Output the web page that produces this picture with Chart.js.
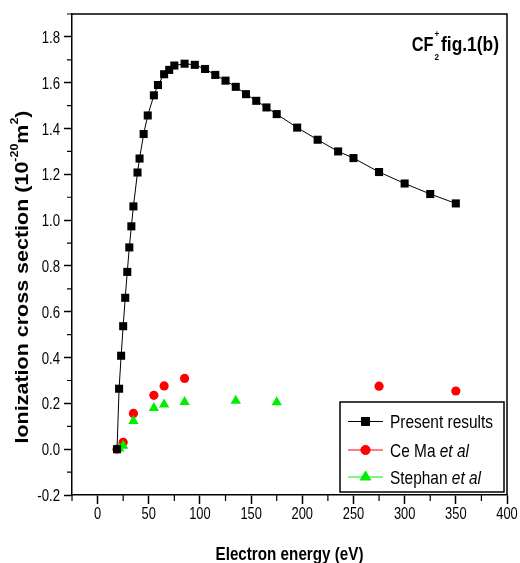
<!DOCTYPE html>
<html>
<head>
<meta charset="utf-8">
<script src="https://cdn.jsdelivr.net/npm/chart.js@4.4.0/dist/chart.umd.min.js"></script>
<style>
  html, body { margin: 0; padding: 0; background: #fff; }
</style>
</head>
<body>
<canvas id="crossSectionChart" width="520" height="563"></canvas>
<script>
// data
const presentEnergy = [19, 21, 23, 25, 27, 29, 31, 33, 35, 39, 41, 45, 49, 55, 59, 65, 70, 75, 85, 95,
    105, 115, 125, 135, 145, 155, 165, 175, 195, 215, 235, 250, 275, 300, 325, 350];
const presentCross = [0.0, 0.264, 0.408, 0.537, 0.661, 0.774, 0.881, 0.973, 1.06, 1.208, 1.269, 1.376, 1.457, 1.545, 1.59, 1.637, 1.656, 1.675, 1.683, 1.678,
    1.66, 1.634, 1.609, 1.582, 1.55, 1.521, 1.492, 1.463, 1.404, 1.351, 1.3, 1.271, 1.21, 1.16, 1.114, 1.073];
const maEnergy = [19, 25, 35, 55, 65, 85, 275, 350];
const maCross = [0.0, 0.03, 0.156, 0.235, 0.276, 0.309, 0.275, 0.254];
const stephanEnergy = [21, 25, 35, 55, 65, 85, 135, 175];
const stephanCross = [0.003, 0.015, 0.123, 0.18, 0.195, 0.206, 0.212, 0.205];
const xRange = [-25, 400];
const yRange = [-0.2, 1.9];
const seriesLabels = ['Present results', 'Ce Ma ', 'Stephan '];

const FONT = "'Liberation Sans', Arial, sans-serif";
const toPoints = (xs, ys) => xs.map((x, i) => ({ x: x, y: ys[i] }));
const isMajorX = v => Math.round(v) % 50 === 0;
const isMajorY = v => Math.round(v * 10) % 2 === 0;

// the original uses a narrow font, so squeeze text horizontally
function narrowText(ctx, text, x, y, font, sx, align) {
    ctx.save();
    ctx.font = font;
    ctx.textAlign = align || 'left';
    ctx.textBaseline = 'alphabetic';
    ctx.translate(x, y);
    ctx.scale(sx, 1);
    ctx.fillText(text, 0, 0);
    ctx.restore();
}
function widthOf(ctx, text, font) {
    ctx.save();
    ctx.font = font;
    const w = ctx.measureText(text).width;
    ctx.restore();
    return w;
}

const decorations = {
    id: 'decorations',
    afterDraw(chart) {
        const ctx = chart.ctx;
        const area = chart.chartArea;
        const xs = chart.scales.x, ys = chart.scales.y;
        ctx.save();
        ctx.fillStyle = '#000';
        ctx.strokeStyle = '#000';
        ctx.lineWidth = 1.5;
        ctx.beginPath();
        ctx.moveTo(area.left, area.top);
        ctx.lineTo(area.right, area.top);
        ctx.lineTo(area.right, area.bottom);
        ctx.stroke();

        // minor ticks
        ctx.lineWidth = 1.2;
        ctx.beginPath();
        xs.ticks.forEach(t => {
            if (isMajorX(t.value)) return;
            const px = xs.getPixelForValue(t.value);
            ctx.moveTo(px, area.bottom);
            ctx.lineTo(px, area.bottom + 6);
        });
        ys.ticks.forEach(t => {
            if (isMajorY(t.value)) return;
            const py = ys.getPixelForValue(t.value);
            ctx.moveTo(area.left, py);
            ctx.lineTo(area.left - 5, py);
        });
        ctx.stroke();

        // tick labels
        const tickFont = '16.5px ' + FONT;
        xs.ticks.forEach(t => {
            if (!isMajorX(t.value) || t.value < 0) return;
            narrowText(ctx, String(t.value), xs.getPixelForValue(t.value), 518.5, tickFont, 0.78, 'center');
        });
        ys.ticks.forEach(t => {
            if (!isMajorY(t.value) || t.value > 1.85) return;
            narrowText(ctx, t.value.toFixed(1), 60, ys.getPixelForValue(t.value) + 6, tickFont, 0.8, 'right');
        });

        // x axis title
        const titleFont = 'bold 19px ' + FONT;
        const xTitle = 'Electron energy (eV)';
        narrowText(ctx, xTitle, (area.left + area.right) / 2, 560, titleFont, 148 / widthOf(ctx, xTitle, titleFont), 'center');

        // y axis title with superscripts
        ctx.save();
        ctx.translate(28, 277);
        ctx.rotate(-Math.PI / 2);
        const big = 'bold 19px ' + FONT, small = 'bold 11px ' + FONT;
        const parts = [
            ['Ionization cross section (10', big, 0],
            ['-20', small, -10],
            ['m', big, 0],
            ['2', small, -10],
            [')', big, 0]
        ];
        let total = 0;
        parts.forEach(p => { total += widthOf(ctx, p[0], p[1]); });
        const sy = 333 / total;
        let cx = -333 / 2;
        parts.forEach(p => {
            narrowText(ctx, p[0], cx, p[2], p[1], sy, 'left');
            cx += widthOf(ctx, p[0], p[1]) * sy;
        });
        ctx.restore();

        // CF2+ label
        const cfFont = 'bold 20px ' + FONT;
        const cfScale = 21.7 / widthOf(ctx, 'CF', cfFont);
        narrowText(ctx, 'CF', 411.7, 50.5, cfFont, cfScale, 'left');
        narrowText(ctx, '2', 434.5, 60, 'bold 9px ' + FONT, 0.9, 'left');
        narrowText(ctx, '+', 434.5, 37, 'bold 9px ' + FONT, 0.9, 'left');
        narrowText(ctx, 'fig.1(b)', 499, 50.5, cfFont, 58 / widthOf(ctx, 'fig.1(b)', cfFont), 'right');

        // legend
        const box = { left: 340, top: 402, right: 504, bottom: 492 };
        ctx.fillStyle = '#fff';
        ctx.fillRect(box.left, box.top, box.right - box.left, box.bottom - box.top);
        ctx.strokeStyle = '#000';
        ctx.lineWidth = 1.5;
        ctx.strokeRect(box.left, box.top, box.right - box.left, box.bottom - box.top);
        const rows = [421.5, 450, 477];
        const legFont = '19px ' + FONT, legItalic = 'italic 19px ' + FONT;
        const legScale = 103 / widthOf(ctx, seriesLabels[0], legFont);
        chart.data.datasets.forEach((ds, i) => {
            const y = rows[i];
            ctx.strokeStyle = ds.borderColor;
            ctx.lineWidth = 1;
            ctx.beginPath();
            ctx.moveTo(348, y);
            ctx.lineTo(383, y);
            ctx.stroke();
            ctx.fillStyle = ds.backgroundColor;
            ctx.strokeStyle = ds.backgroundColor;
            Chart.helpers.drawPoint(ctx, { pointStyle: ds.pointStyle, radius: ds.pointRadius, borderWidth: 1 }, 365.5, y);
            ctx.fillStyle = '#000';
            narrowText(ctx, seriesLabels[i], 390, y + 6.5, legFont, legScale, 'left');
            if (i > 0) {
                const w = widthOf(ctx, seriesLabels[i], legFont) * legScale;
                narrowText(ctx, 'et al', 390 + w, y + 6.5, legItalic, legScale, 'left');
            }
        });
        ctx.restore();
    }
};

new Chart(document.getElementById('crossSectionChart').getContext('2d'), {
    type: 'scatter',
    data: {
        datasets: [{
            label: 'Present results',
            data: toPoints(presentEnergy, presentCross),
            showLine: true,
            borderColor: '#000',
            borderWidth: 1,
            backgroundColor: '#000',
            pointStyle: 'rect',
            pointRadius: 5.7,
            pointBorderWidth: 0,
            order: 0
        }, {
            label: 'Ce Ma et al',
            data: toPoints(maEnergy, maCross),
            borderColor: '#ff0000',
            backgroundColor: '#ff0000',
            pointStyle: 'circle',
            pointRadius: 4.6,
            pointBorderWidth: 0,
            order: 2
        }, {
            label: 'Stephan et al',
            data: toPoints(stephanEnergy, stephanCross),
            borderColor: '#00ee00',
            backgroundColor: '#00ee00',
            pointStyle: 'triangle',
            pointRadius: 6,
            pointBorderWidth: 0,
            order: 1
        }]
    },
    options: {
        responsive: false,
        animation: false,
        devicePixelRatio: 1,
        layout: { padding: { top: 14, right: 13, left: 0, bottom: 0 } },
        plugins: { legend: { display: false }, tooltip: { enabled: false } },
        scales: {
            x: {
                type: 'linear',
                min: xRange[0],
                max: xRange[1],
                afterFit: scale => { scale.height = 68; },
                ticks: {
                    stepSize: 25,
                    autoSkip: false,
                    maxRotation: 0,
                    color: '#000',
                    callback: () => ''
                },
                grid: {
                    drawOnChartArea: false,
                    drawTicks: true,
                    tickLength: 9,
                    tickWidth: 1.5,
                    tickColor: c => (c.tick && isMajorX(c.tick.value)) ? '#000' : 'rgba(0,0,0,0)'
                },
                border: { display: true, color: '#000', width: 1.5 }
            },
            y: {
                type: 'linear',
                min: yRange[0],
                max: yRange[1],
                afterFit: scale => { scale.width = 72; },
                ticks: {
                    stepSize: 0.1,
                    autoSkip: false,
                    color: '#000',
                    callback: () => ''
                },
                grid: {
                    drawOnChartArea: false,
                    drawTicks: true,
                    tickLength: 8,
                    tickWidth: 1.5,
                    tickColor: c => (c.tick && isMajorY(c.tick.value)) ? '#000' : 'rgba(0,0,0,0)'
                },
                border: { display: true, color: '#000', width: 1.5 }
            }
        }
    },
    plugins: [decorations]
});
</script>
</body>
</html>
